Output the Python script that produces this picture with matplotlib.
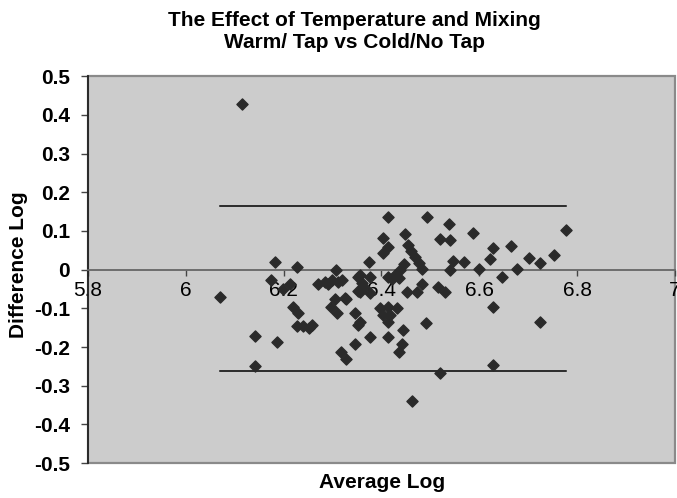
import matplotlib
matplotlib.use("Agg")
import matplotlib.pyplot as plt
from matplotlib.ticker import FuncFormatter

plt.rcParams["font.family"] = ["Liberation Sans", "DejaVu Sans"]
plt.rcParams["font.weight"] = "bold"

# Bland-Altman style data
avg_log = [
    6.114, 6.070, 6.142, 6.142, 6.182, 6.174, 6.186, 6.228, 6.213, 6.199,
    6.220, 6.230, 6.227, 6.240, 6.251, 6.257, 6.271, 6.285, 6.290, 6.298,
    6.307, 6.312, 6.319, 6.305, 6.328, 6.296, 6.309, 6.317, 6.328, 6.346,
    6.351, 6.351, 6.346, 6.351, 6.326, 6.356, 6.360, 6.364, 6.377, 6.375,
    6.356, 6.377, 6.356, 6.404, 6.414, 6.404, 6.414, 6.493, 6.539, 6.588,
    6.448, 6.520, 6.540, 6.455, 6.460, 6.469, 6.477, 6.482, 6.445, 6.438,
    6.428, 6.435, 6.414, 6.421, 6.547, 6.540, 6.569, 6.599, 6.628, 6.622,
    6.665, 6.646, 6.677, 6.702, 6.724, 6.753, 6.778, 6.627, 6.724, 6.491,
    6.627, 6.516, 6.530, 6.452, 6.473, 6.482, 6.520, 6.462, 6.396, 6.414,
    6.431, 6.403, 6.417, 6.414, 6.414, 6.444, 6.441, 6.435, 6.377,
]
diff_log = [
    0.428, -0.070, -0.172, -0.249, 0.021, -0.027, -0.186, 0.007, -0.036, -0.051,
    -0.096, -0.113, -0.146, -0.146, -0.152, -0.143, -0.038, -0.031, -0.038, -0.027,
    0.000, -0.031, -0.027, -0.077, -0.075, -0.096, -0.113, -0.212, -0.232, -0.191,
    -0.019, -0.055, -0.113, -0.143, -0.072, -0.014, -0.035, -0.045, -0.019, 0.020,
    -0.134, -0.174, -0.057, 0.081, 0.059, 0.042, 0.135, 0.135, 0.118, 0.096,
    0.092, 0.078, 0.076, 0.065, 0.048, 0.032, 0.018, 0.002, 0.014, -0.001,
    -0.014, -0.022, -0.020, -0.024, 0.023, -0.001, 0.020, 0.003, 0.057, 0.028,
    0.061, -0.020, 0.003, 0.029, 0.018, 0.039, 0.102, -0.096, -0.135, -0.137,
    -0.247, -0.044, -0.057, -0.057, -0.057, -0.037, -0.267, -0.340, -0.100, -0.096,
    -0.100, -0.117, -0.117, -0.134, -0.174, -0.155, -0.191, -0.212, -0.060,
]

upper_limit = 0.164
lower_limit = -0.263
x_ticks = [5.8, 6.0, 6.2, 6.4, 6.6, 6.8, 7.0]
y_ticks = [-0.5, -0.4, -0.3, -0.2, -0.1, 0.0, 0.1, 0.2, 0.3, 0.4, 0.5]

fig = plt.figure(figsize=(6.77, 4.98), dpi=100)
ax = fig.add_axes([0.130, 0.070, 0.867, 0.777])
ax.set_facecolor("#cccccc")
ax.patch.set_edgecolor("#8a8a8a")
ax.patch.set_linewidth(1.6)

ax.scatter(avg_log, diff_log, marker="D", s=32, color="#2a2a2a", zorder=3)

x_lo, x_hi = min(avg_log), max(avg_log)
ax.plot([x_lo, x_hi], [upper_limit, upper_limit], color="black", lw=1.1, zorder=2)
ax.plot([x_lo, x_hi], [lower_limit, lower_limit], color="black", lw=1.1, zorder=2)

ax.set_xlim(5.8, 7.0)
ax.set_ylim(-0.5, 0.5)
ax.set_xticks(x_ticks)
ax.set_yticks(y_ticks)
fmt = FuncFormatter(lambda v, p: f"{v:g}")
ax.xaxis.set_major_formatter(fmt)
ax.yaxis.set_major_formatter(fmt)

ax.spines["bottom"].set_position(("data", 0))
ax.spines["bottom"].set_color("#666666")
ax.spines["bottom"].set_linewidth(1.3)
ax.spines["top"].set_visible(False)
ax.spines["right"].set_visible(False)
ax.spines["left"].set_color("#222222")
ax.spines["left"].set_linewidth(1.3)

ax.tick_params(axis="x", direction="out", length=4, width=1, color="#444444",
               pad=4, labelsize=15)
ax.tick_params(axis="y", direction="out", length=5, width=1, color="#444444",
               pad=8, labelsize=15)
for lbl in ax.get_xticklabels():
    lbl.set_fontweight("normal")
for lbl in ax.get_yticklabels():
    lbl.set_fontweight("bold")

fig.text(0.524, 0.958, "The Effect of Temperature and Mixing",
         ha="center", va="center", fontsize=15, fontweight="bold")
fig.text(0.524, 0.914, "Warm/ Tap vs Cold/No Tap",
         ha="center", va="center", fontsize=15, fontweight="bold")
fig.text(0.564, 0.032, "Average Log", ha="center", va="center",
         fontsize=15, fontweight="bold")
fig.text(0.027, 0.468, "Difference Log", ha="center", va="center",
         rotation=90, fontsize=15, fontweight="bold")

fig.savefig("out.png", dpi=100)
